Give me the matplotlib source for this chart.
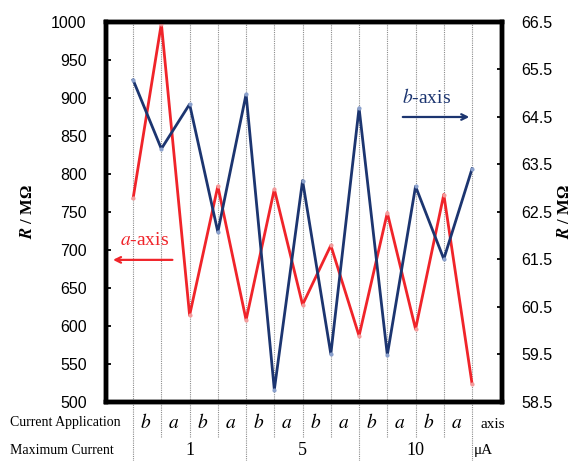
import matplotlib
matplotlib.use('Agg')
import matplotlib.pyplot as plt
from matplotlib.transforms import blended_transform_factory

plt.rcParams['mathtext.fontset'] = 'stix'

# resistance along a-axis (left scale) and b-axis (right scale), MOhm
r_a = [768, 998, 614, 784, 608, 780, 628, 706, 587, 749, 596, 773, 524]
r_b = [65.28, 63.83, 64.77, 62.08, 64.98, 58.76, 63.16, 59.51, 64.69,
       59.49, 63.04, 61.51, 63.41]
applied = ['b', 'a', 'b', 'a', 'b', 'a', 'b', 'a', 'b', 'a', 'b', 'a']
max_current = ['1', '5', '10']

red = '#f0242a'
navy = '#1c3570'
serif = 'Liberation Serif'
sans = 'Liberation Sans'

x = list(range(len(r_a)))

fig = plt.figure(figsize=(5.72, 4.61), dpi=100)
ax = fig.add_axes([0.1853, 0.128, 0.6923, 0.8243])
ax2 = ax.twinx()

# dotted separators, running down into the table rows
for i in x:
    lo = -0.155 if i % 4 == 0 else -0.092
    ax.axvline(i, ymin=lo, ymax=1, color='#8c8c8c', ls=(0, (1, 1)), lw=0.8,
               clip_on=False, zorder=0)

ax.plot(x, r_a, color=red, lw=2, marker='o', ms=3,
        mfc='#f39a9a', mec='none', zorder=3)
ax2.plot(x, r_b, color=navy, lw=2, marker='o', ms=3,
         mfc='#8aa0cc', mec='none', zorder=3)

ax.set_xlim(-0.96, 13.06)
ax.set_ylim(500, 1000)
ax2.set_ylim(58.5, 66.5)
ax.set_yticks(range(500, 1001, 50))
ax2.set_yticks([58.5 + k for k in range(9)])
ax2.set_yticklabels(['%.1f' % (58.5 + k) for k in range(9)])
ax.set_xticks([])

for a in (ax, ax2):
    for sp in a.spines.values():
        sp.set_linewidth(3.2)
    a.tick_params(axis='y', direction='in', length=3.5, width=1.3,
                  pad=14, labelsize=11.5)
    for lab in a.get_yticklabels():
        lab.set_fontfamily(sans)

# axis hints with arrows
ax.annotate('', xy=(-0.81, 687), xytext=(1.49, 687),
            arrowprops=dict(arrowstyle='->', color=red, lw=1.6))
ax.text(0.39, 713, r'$\mathit{a}$-axis', color=red, fontsize=14,
        family=serif, ha='center', va='center')
ax.annotate('', xy=(12.0, 875), xytext=(9.45, 875),
            arrowprops=dict(arrowstyle='->', color=navy, lw=1.6))
ax.text(10.4, 901, r'$\mathit{b}$-axis', color=navy, fontsize=14,
        family=serif, ha='center', va='center')

fig.text(28 / 572, 1 - 212 / 461, r'$\mathbfit{R}$ / MΩ', rotation=90,
         ha='center', va='center', family=serif, fontweight='bold',
         fontsize=12)
fig.text(565 / 572, 1 - 212 / 461, r'$\mathbfit{R}$ / MΩ', rotation=90,
         ha='center', va='center', family=serif, fontweight='bold',
         fontsize=12)

# table under the plot
tr = blended_transform_factory(ax.transData, ax.transAxes)
row1 = -0.054
row2 = -0.127
fig.text(10 / 572, 1 - 422.5 / 461, 'Current Application', family=serif,
         fontsize=10, ha='left', va='center')
fig.text(10 / 572, 1 - 450 / 461, 'Maximum Current', family=serif,
         fontsize=10, ha='left', va='center')
for i, s in enumerate(applied):
    ax.text(i + 0.45, row1, r'$\mathit{%s}$' % s, transform=tr,
            fontsize=14, ha='center', va='center')
ax.text(12.3, row1 - 0.005, 'axis', transform=tr, family=serif,
        fontsize=11, ha='left', va='center')
for k, s in enumerate(max_current):
    ax.text(4 * k + 2, row2, s, transform=tr, family=serif,
            fontsize=13, ha='center', va='center')
ax.text(12.05, row2, 'μA', transform=tr, family=serif,
        fontsize=11, ha='left', va='center')

fig.savefig('out.png', dpi=100)
